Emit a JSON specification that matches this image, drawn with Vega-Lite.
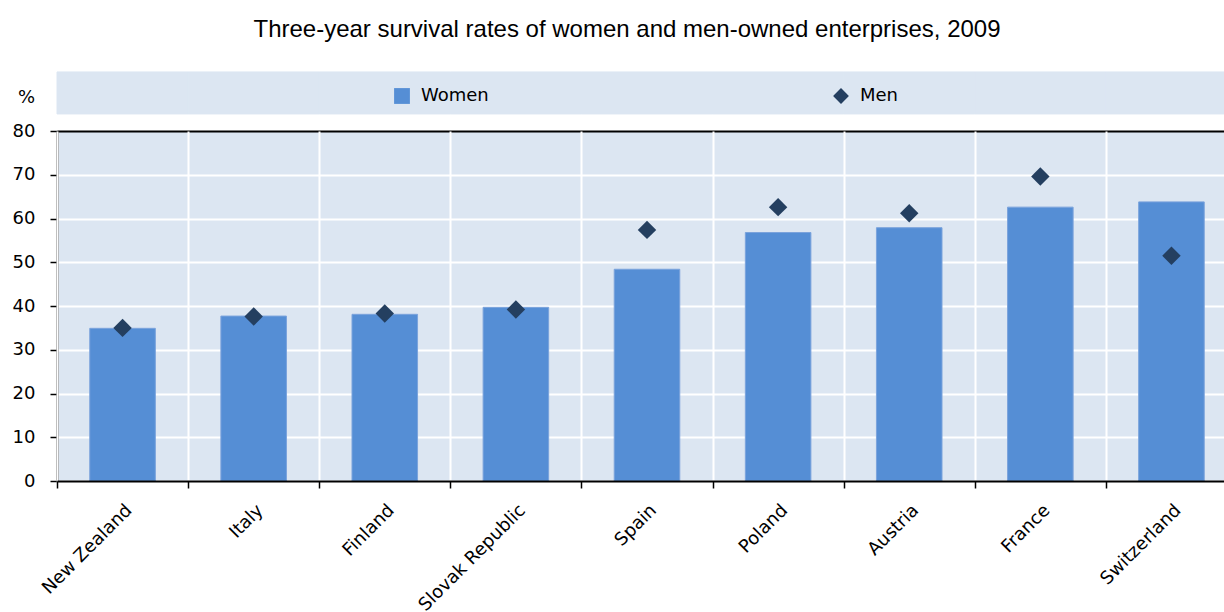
{
  "$schema": "https://vega.github.io/schema/vega-lite/v6.json",
  "autosize": "none",
  "width": 1180,
  "height": 350,
  "padding": {"left": 57, "top": 131, "right": 0, "bottom": 131},
  "background": "white",
  "config": {
    "view": {"fill": "#DCE6F2", "stroke": null},
    "font": "DejaVu Sans"
  },
  "title": {
    "text": "Three-year survival rates of women and men-owned enterprises, 2009",
    "font": "Liberation Sans",
    "fontSize": 24,
    "fontWeight": "normal",
    "color": "black",
    "anchor": "middle",
    "frame": "group",
    "baseline": "alphabetic",
    "offset": 10,
    "dx": -20
  },
  "data": {
    "values": [
      {"country": "New Zealand", "series": "Women", "value": 34.9},
      {"country": "Italy", "series": "Women", "value": 37.7},
      {"country": "Finland", "series": "Women", "value": 38.1},
      {"country": "Slovak Republic", "series": "Women", "value": 39.7},
      {"country": "Spain", "series": "Women", "value": 48.4},
      {"country": "Poland", "series": "Women", "value": 56.8},
      {"country": "Austria", "series": "Women", "value": 57.9},
      {"country": "France", "series": "Women", "value": 62.6},
      {"country": "Switzerland", "series": "Women", "value": 63.8},
      {"country": "New Zealand", "series": "Men", "value": 35.0},
      {"country": "Italy", "series": "Men", "value": 37.6},
      {"country": "Finland", "series": "Men", "value": 38.3},
      {"country": "Slovak Republic", "series": "Men", "value": 39.2},
      {"country": "Spain", "series": "Men", "value": 57.4},
      {"country": "Poland", "series": "Men", "value": 62.6},
      {"country": "Austria", "series": "Men", "value": 61.2},
      {"country": "France", "series": "Men", "value": 69.6},
      {"country": "Switzerland", "series": "Men", "value": 51.5}
    ]
  },
  "encoding": {
    "x": {
      "field": "country",
      "type": "nominal",
      "sort": null,
      "scale": {"paddingInner": 0, "paddingOuter": 0},
      "axis": {
        "title": null,
        "tickBand": "extent",
        "grid": true,
        "gridColor": "white",
        "gridWidth": 2,
        "gridOpacity": 1,
        "domainColor": "black",
        "domainWidth": 2,
        "tickColor": "black",
        "tickWidth": 1.5,
        "tickSize": 7,
        "labelAngle": -45,
        "labelAlign": "right",
        "labelBaseline": "top",
        "labelFont": "DejaVu Sans",
        "labelFontSize": 18,
        "labelColor": "black",
        "labelPadding": 13,
        "labelLimit": 300
      }
    }
  },
  "layer": [
    {
      "transform": [{"filter": "datum.series === 'Women'"}],
      "mark": {"type": "rect", "color": "#DCE6F2", "stroke": "#DCE6F2", "strokeWidth": 1, "clip": false},
      "encoding": {
        "y": {"datum": 93.5, "type": "quantitative", "scale": {"domain": [0, 80], "nice": false}},
        "y2": {"datum": 83.9}
      }
    },
    {
      "transform": [{"filter": "datum.series === 'Women'"}],
      "mark": {"type": "bar", "width": {"band": 0.5}, "stroke": "#7BA3DC", "strokeWidth": 1},
      "encoding": {
        "y": {
          "field": "value",
          "type": "quantitative",
          "scale": {"domain": [0, 80], "nice": false},
          "axis": {
            "values": [0, 10, 20, 30, 40, 50, 60, 70, 80],
            "title": "%",
            "titleAngle": 0,
            "titleX": -31,
            "titleY": -34,
            "titleAlign": "center",
            "titleBaseline": "middle",
            "titleFont": "DejaVu Sans",
            "titleFontSize": 18,
            "titleFontWeight": "normal",
            "titleColor": "black",
            "grid": true,
            "gridColor": {"condition": {"test": "datum.value === 80", "value": "black"}, "value": "white"},
            "gridWidth": 2,
            "gridOpacity": 1,
            "domainColor": "black",
            "domainWidth": 2,
            "tickColor": "black",
            "tickWidth": 1.5,
            "tickSize": 7,
            "labelFont": "DejaVu Sans",
            "labelFontSize": 18,
            "labelColor": "black",
            "labelPadding": 15
          }
        },
        "color": {
          "field": "series",
          "type": "nominal",
          "scale": {"domain": ["Women", "Men"], "range": ["#558ED5", "#243F60"]},
          "legend": {
            "title": null,
            "orient": "none",
            "legendX": 336,
            "legendY": -44,
            "direction": "horizontal",
            "columnPadding": 343,
            "symbolSize": 250,
            "symbolStrokeWidth": 0,
            "labelFont": "DejaVu Sans",
            "labelFontSize": 18,
            "labelColor": "black",
            "labelOffset": 10,
            "padding": 0
          }
        }
      }
    },
    {
      "transform": [{"filter": "datum.series === 'Men'"}],
      "mark": {"type": "point", "filled": true, "opacity": 1, "size": 340},
      "encoding": {
        "y": {"field": "value", "type": "quantitative"},
        "color": {"field": "series", "type": "nominal"},
        "shape": {
          "field": "series",
          "type": "nominal",
          "scale": {"domain": ["Women", "Men"], "range": ["square", "diamond"]}
        }
      }
    }
  ]
}
